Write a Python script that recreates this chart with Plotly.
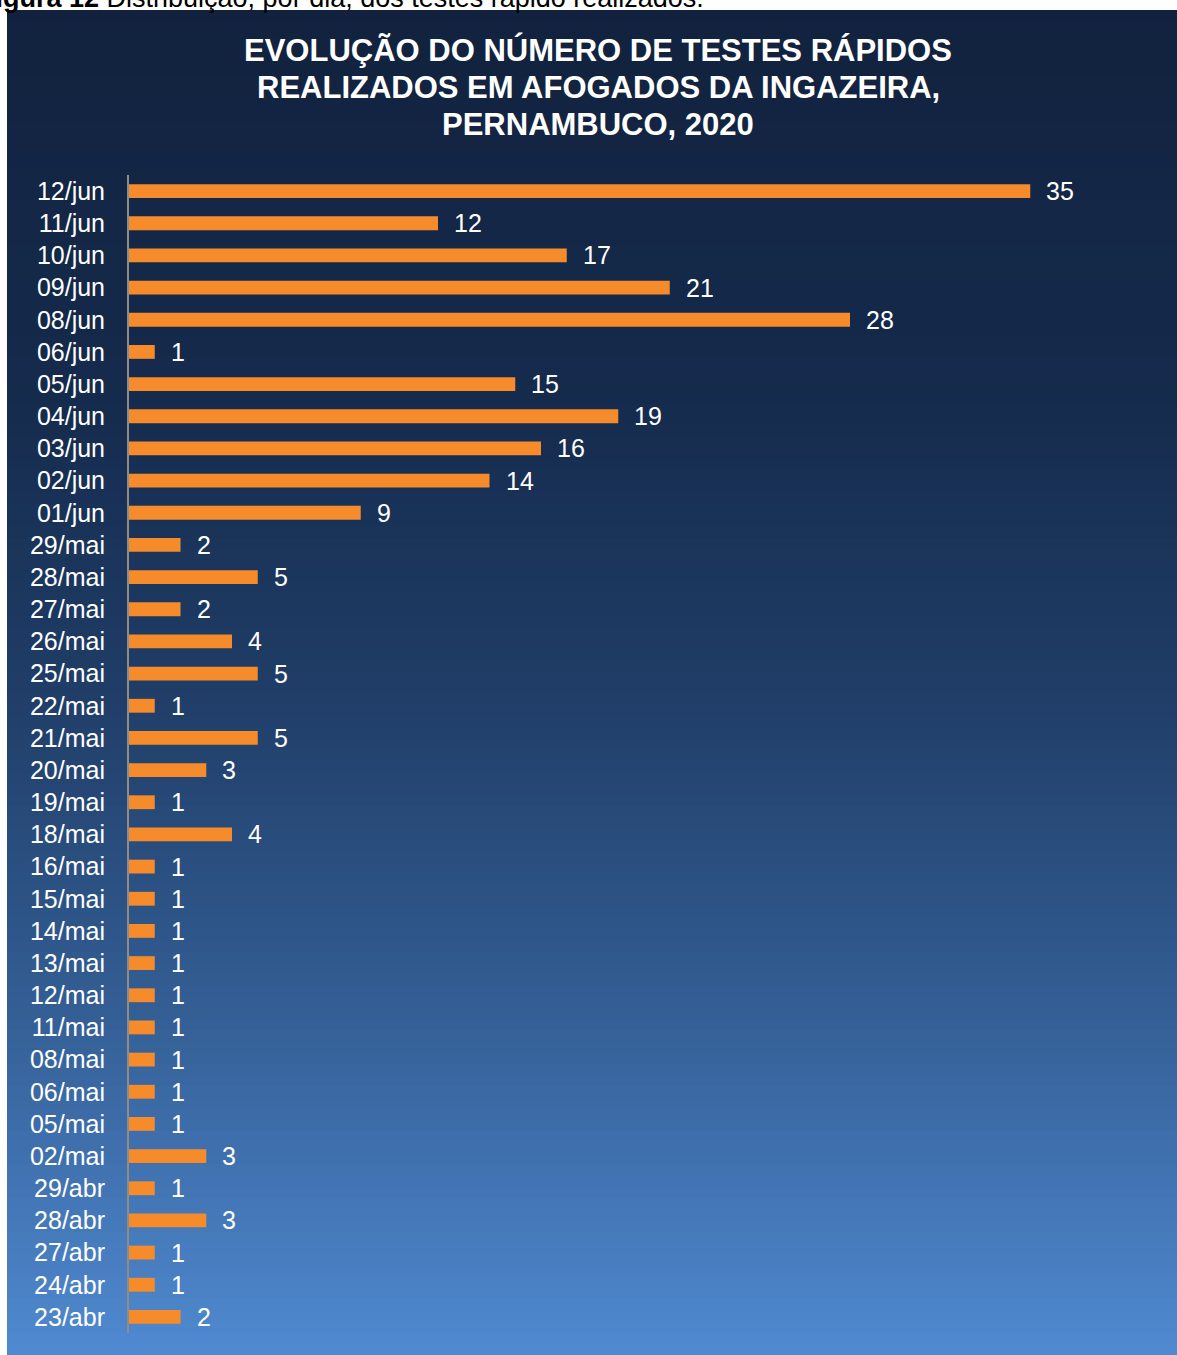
import plotly.graph_objects as go

# Data (bottom -> top)
dates = ["23/abr", "24/abr", "27/abr", "28/abr", "29/abr", "02/mai", "05/mai", "06/mai",
         "08/mai", "11/mai", "12/mai", "13/mai", "14/mai", "15/mai", "16/mai", "18/mai",
         "19/mai", "20/mai", "21/mai", "22/mai", "25/mai", "26/mai", "27/mai", "28/mai",
         "29/mai", "01/jun", "02/jun", "03/jun", "04/jun", "05/jun", "06/jun", "08/jun",
         "09/jun", "10/jun", "11/jun", "12/jun"]
tests = [2, 1, 1, 3, 1, 3, 1, 1,
         1, 1, 1, 1, 1, 1, 1, 4,
         1, 3, 5, 1, 5, 4, 2, 5,
         2, 9, 14, 16, 19, 15, 1, 28,
         21, 17, 12, 35]

title_lines = ["EVOLUÇÃO DO NÚMERO DE TESTES RÁPIDOS",
               "REALIZADOS EM AFOGADOS DA INGAZEIRA,",
               "PERNAMBUCO, 2020"]
caption_text = "<b>Figura 12</b> Distribuição, por dia, dos testes rápido realizados."

W, H = 1177, 1355
ML, MR, MT, MB = 129, 18, 175, 22
PW, PH = W - ML - MR, H - MT - MB

def px_x(x):
    return (x - ML) / PW

def px_y(y):
    return (H - MB - y) / PH

def hex2rgb(h):
    h = h.lstrip("#")
    return tuple(int(h[i:i + 2], 16) for i in (0, 2, 4))

stops = [(10, "#12223e"), (400, "#152b4d"), (700, "#203e68"), (1000, "#335d93"), (1355, "#508ad1")]

def color_at(y):
    for (y0, c0), (y1, c1) in zip(stops[:-1], stops[1:]):
        if y0 <= y <= y1:
            t = (y - y0) / (y1 - y0)
            a, b = hex2rgb(c0), hex2rgb(c1)
            return "rgb(%d,%d,%d)" % tuple(round(a[i] + (b[i] - a[i]) * t) for i in range(3))
    return stops[-1][1]

shapes = []
n = 120
top, bot = 10, H
step = (bot - top) / n
for i in range(n):
    y0 = top + i * step
    y1 = min(y0 + step + 0.8, H)
    shapes.append(dict(type="rect", xref="paper", yref="paper", layer="below",
                       x0=px_x(7), x1=px_x(W),
                       y0=px_y(y1), y1=px_y(y0),
                       fillcolor=color_at(y0 + step / 2), line=dict(width=0)))

fig = go.Figure()
fig.add_trace(go.Bar(
    y=dates, x=tests, orientation="h",
    marker=dict(color="#f68b2c", line=dict(width=0)),
    width=0.43,
    hoverinfo="x+y",
))

FONT = "Liberation Sans, Arial"
annotations = []
for d, v in zip(dates, tests):
    annotations.append(dict(x=v, y=d, xref="x", yref="y", text=str(v), showarrow=False,
                            xanchor="left", yanchor="middle", xshift=14,
                            font=dict(size=25, color="white", family=FONT)))

for line, ypx in zip(title_lines, [50, 87, 124]):
    annotations.append(dict(x=px_x(598), y=px_y(ypx), xref="paper", yref="paper",
                            text="<b>" + line + "</b>", showarrow=False,
                            xanchor="center", yanchor="middle",
                            font=dict(size=31, color="white", family=FONT)))

annotations.append(dict(x=px_x(-23), y=px_y(-2), xref="paper", yref="paper",
                        text=caption_text, showarrow=False,
                        xanchor="left", yanchor="middle",
                        font=dict(size=27, color="black", family=FONT)))

fig.update_layout(
    width=W, height=H,
    margin=dict(l=ML, r=MR, t=MT, b=MB, pad=0),
    paper_bgcolor="white",
    plot_bgcolor="rgba(0,0,0,0)",
    showlegend=False,
    shapes=shapes,
    annotations=annotations,
    xaxis=dict(range=[0, 40], visible=False, fixedrange=True),
    yaxis=dict(type="category", showgrid=False, zeroline=False,
               showline=True, linecolor="#8c8c8c", linewidth=2,
               ticks="", ticklabelstandoff=17,
               tickfont=dict(size=25, color="white", family=FONT)),
    bargap=0.57,
)

fig.write_html("out.html", config={"displayModeBar": False},
               post_script="document.body.style.margin='0';document.body.style.overflow='hidden';")
